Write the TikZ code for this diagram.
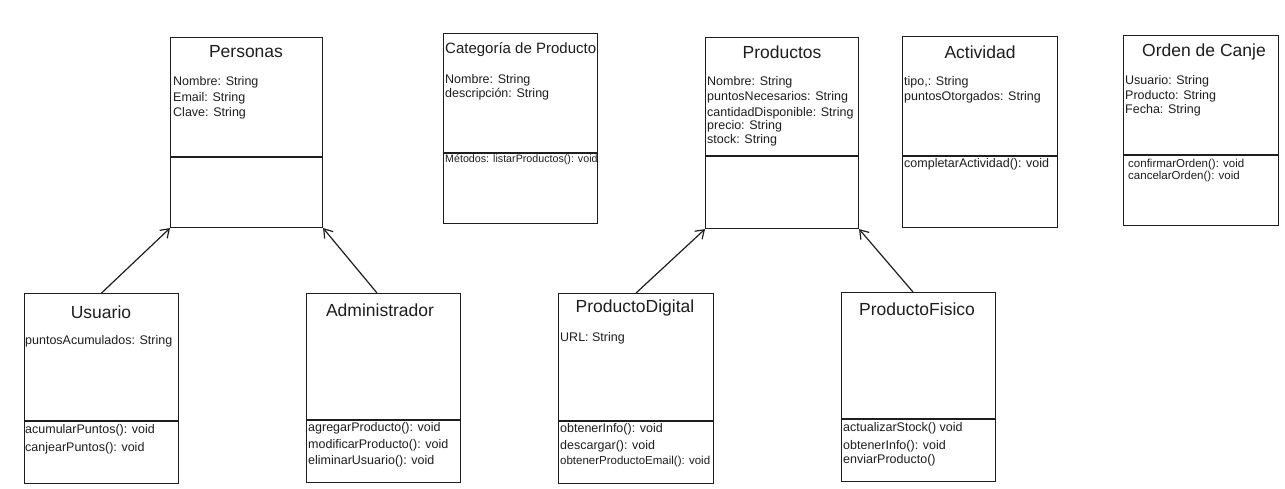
\documentclass[tikz,border=0pt]{standalone}
\usepackage{fontspec}
\setmainfont{Liberation Sans}
\usetikzlibrary{arrows.meta}
\definecolor{ink}{HTML}{1E1E1E}
\begin{document}
\begin{tikzpicture}[x=1pt,y=-1pt,
  cls/.style={draw=ink, line width=1.1pt, anchor=north west, inner sep=0pt, fill=white},
  ttl/.style={font=\fontsize{17.5}{20}\selectfont, text=ink, inner sep=0pt},
  ttlsm/.style={font=\fontsize{15}{18}\selectfont, text=ink, inner sep=0pt, anchor=west},
  attr/.style={font=\fontsize{12.5}{14}\selectfont, text=ink, anchor=west, inner sep=0pt, text height=0.72em, text depth=0.2em},
  small/.style={font=\fontsize{11.5}{12}\selectfont, text=ink, anchor=west, inner sep=0pt, text height=0.72em, text depth=0.2em},
  tiny/.style={font=\fontsize{10.7}{12}\selectfont, text=ink, anchor=west, inner sep=0pt, text height=0.72em, text depth=0.2em},
  div/.style={draw=ink, line width=1.1pt},
  inh/.style={draw=ink, line width=1.2pt, -{Straight Barb[length=8pt,width=11pt,line width=1.2pt]}}]
\useasboundingbox (0,0) rectangle (1285,489);

% ---------- Personas ----------
\node[cls, minimum width=152pt, minimum height=190pt] (personas) at (170,37) {};
\draw[div] (personas.west |- 0,157) -- (personas.east |- 0,157);
\node[ttl] (personasT) at (246,52) {Personas};
\node[attr] (personasA1) at (173,83) {Nombre: String};
\node[attr] (personasA2) at (173,99) {Email: String};
\node[attr] (personasA3) at (173,114) {Clave: String};

% ---------- Categoria ----------
\node[cls, minimum width=154pt, minimum height=190pt] (categoria) at (443,33) {};
\draw[div] (categoria.west |- 0,153) -- (categoria.east |- 0,153);
\node[ttlsm] (categoriaT) at (445,50) {Categoría de Producto};
\node[attr] (categoriaA1) at (445,81) {Nombre: String};
\node[attr] (categoriaA2) at (445,95) {descripción: String};
\node[tiny] (categoriaM1) at (445,160) {Métodos: listarProductos(): void};

% ---------- Productos ----------
\node[cls, minimum width=153pt, minimum height=191pt] (productos) at (705,37) {};
\draw[div] (productos.west |- 0,156) -- (productos.east |- 0,156);
\node[ttl] (productosT) at (782,52) {Productos};
\node[attr] (productosA1) at (707,83) {Nombre: String};
\node[attr] (productosA2) at (707,98) {puntosNecesarios: String};
\node[attr] (productosA3) at (707,114) {cantidadDisponible: String};
\node[attr] (productosA4) at (707,127) {precio: String};
\node[attr] (productosA5) at (707,141) {stock: String};

% ---------- Actividad ----------
\node[cls, minimum width=155pt, minimum height=191pt] (actividad) at (902,36) {};
\draw[div] (actividad.west |- 0,156) -- (actividad.east |- 0,156);
\node[ttl] (actividadT) at (980,52) {Actividad};
\node[attr] (actividadA1) at (904,83) {tipo,: String};
\node[attr] (actividadA2) at (904,98) {puntosOtorgados: String};
\node[attr] (actividadM1) at (904,165) {completarActividad(): void};

% ---------- Orden de Canje ----------
\node[cls, minimum width=155pt, minimum height=190pt] (orden) at (1123,35) {};
\draw[div] (orden.west |- 0,155) -- (orden.east |- 0,155);
\node[ttl] (ordenT) at (1204,52) {Orden de Canje};
\node[attr] (ordenA1) at (1125,82) {Usuario: String};
\node[attr] (ordenA2) at (1125,97) {Producto: String};
\node[attr] (ordenA3) at (1125,111) {Fecha: String};
\node[small] (ordenM1) at (1128,165) {confirmarOrden(): void};
\node[small] (ordenM2) at (1128,177) {cancelarOrden(): void};

% ---------- Usuario ----------
\node[cls, minimum width=154pt, minimum height=190pt] (usuario) at (24,293) {};
\draw[div] (usuario.west |- 0,421) -- (usuario.east |- 0,421);
\node[ttl] (usuarioT) at (101,312) {Usuario};
\node[attr] (usuarioA1) at (25,342) {puntosAcumulados: String};
\node[attr] (usuarioM1) at (25,431) {acumularPuntos(): void};
\node[attr] (usuarioM2) at (25,449) {canjearPuntos(): void};

% ---------- Administrador ----------
\node[cls, minimum width=154pt, minimum height=189pt] (admin) at (306,293) {};
\draw[div] (admin.west |- 0,420) -- (admin.east |- 0,420);
\node[ttl] (adminT) at (380,310) {Administrador};
\node[attr] (adminM1) at (308,429) {agregarProducto(): void};
\node[attr] (adminM2) at (308,446) {modificarProducto(): void};
\node[attr] (adminM3) at (308,462) {eliminarUsuario(): void};

% ---------- ProductoDigital ----------
\node[cls, minimum width=155pt, minimum height=190pt] (pdig) at (558,293) {};
\draw[div] (pdig.west |- 0,421) -- (pdig.east |- 0,421);
\node[ttl] (pdigT) at (635,308) {ProductoDigital};
\node[attr] (pdigA1) at (560,339) {URL: String};
\node[attr] (pdigM1) at (560,430) {obtenerInfo(): void};
\node[attr] (pdigM2) at (560,447) {descargar(): void};
\node[small] (pdigM3) at (560,462) {obtenerProductoEmail(): void};

% ---------- ProductoFisico ----------
\node[cls, minimum width=154pt, minimum height=189pt] (pfis) at (841,292) {};
\draw[div] (pfis.west |- 0,419) -- (pfis.east |- 0,419);
\node[ttl] (pfisT) at (917,309) {ProductoFisico};
\node[attr] (pfisM1) at (843,429) {actualizarStock() void};
\node[attr] (pfisM2) at (843,447) {obtenerInfo(): void};
\node[attr] (pfisM3) at (843,461) {enviarProducto()};

% ---------- inheritance arrows ----------
\draw[inh] (usuario.north) -- (personas.south west);
\draw[inh] (admin.north -| 377,0) -- (personas.south east);
\draw[inh] (pdig.north) -- (productos.south west);
\draw[inh] (pfis.north -| 913,0) -- (productos.south east);
\end{tikzpicture}
\end{document}
